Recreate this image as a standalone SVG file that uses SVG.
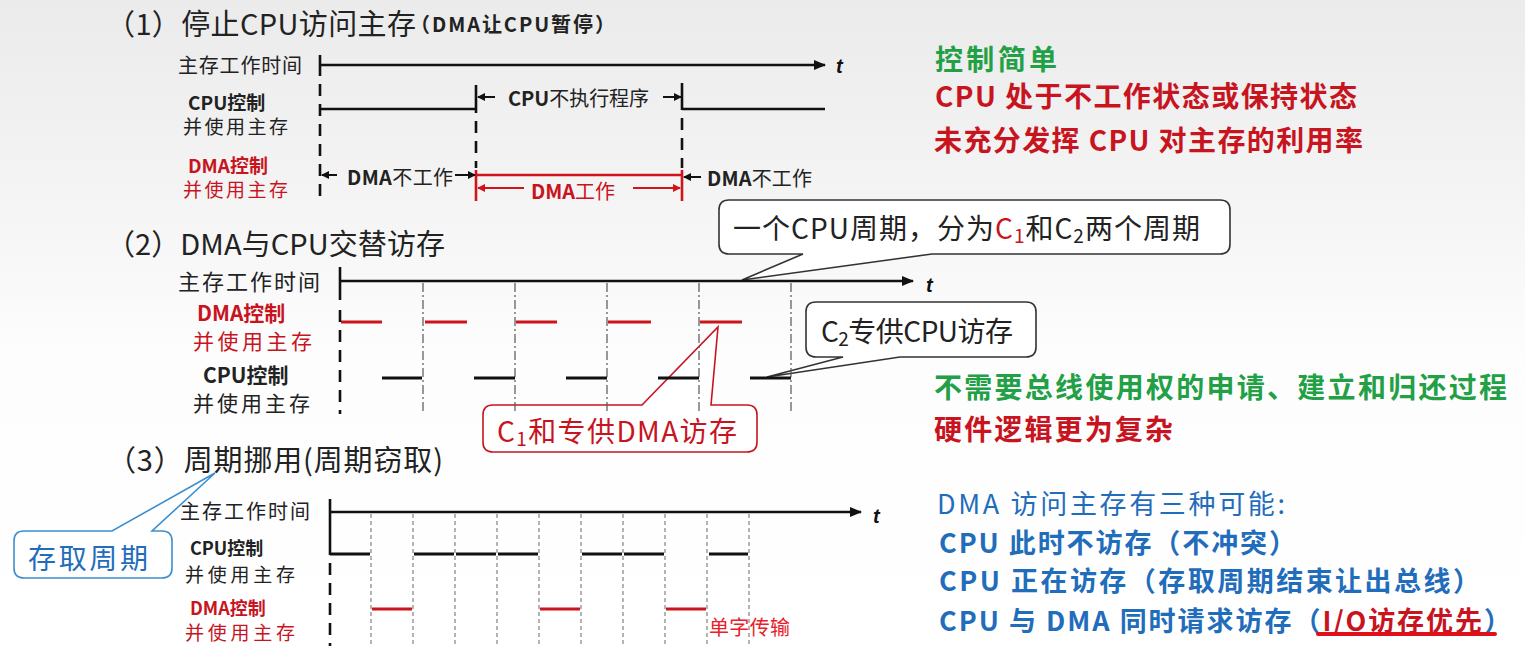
<svg xmlns="http://www.w3.org/2000/svg" width="1525" height="649" viewBox="0 0 1525 649">
  <defs>
    <linearGradient id="bg" x1="0" y1="0" x2="0" y2="1">
      <stop offset="0" stop-color="#ebebeb"/>
      <stop offset="0.3" stop-color="#f4f4f4"/>
      <stop offset="0.55" stop-color="#fdfdfd"/>
      <stop offset="1" stop-color="#ffffff"/>
    </linearGradient>
    <marker id="axisHead" markerUnits="userSpaceOnUse" markerWidth="12" markerHeight="10" refX="11" refY="5" orient="auto" viewBox="0 0 12 10">
      <path d="M0,0 L12,5 L0,10 z" fill="#111"/>
    </marker>
    <marker id="headB" markerUnits="userSpaceOnUse" markerWidth="8" markerHeight="8" refX="7" refY="4" orient="auto" viewBox="0 0 8 8">
      <path d="M0,0 L8,4 L0,8 z" fill="#111"/>
    </marker>
    <marker id="headR" markerUnits="userSpaceOnUse" markerWidth="8" markerHeight="8" refX="7" refY="4" orient="auto" viewBox="0 0 8 8">
      <path d="M0,0 L8,4 L0,8 z" fill="#d0141c"/>
    </marker>
  </defs>
  <style>
    text { font-family: 'Noto Sans CJK SC', 'Noto Sans', sans-serif; dominant-baseline: central; fill: #222; }
    .title { font-size: 29px; }
    .b { font-weight: 700; }
    .red { fill: #c8141e; }
    .green { fill: #22a046; }
    .blue { fill: #1f6dbb; }
    .tt { font-family: 'Liberation Sans', sans-serif; font-weight: 700; font-style: italic; font-size: 20px; fill: #111; }
    .axis { stroke: #111; stroke-width: 2.5; fill: none; marker-end: url(#axisHead); }
    .solid { stroke: #111; stroke-width: 2.6; fill: none; }
    .dash { stroke: #111; stroke-width: 2.6; stroke-dasharray: 12 8; fill: none; }
    .rline { stroke: #d0141c; stroke-width: 2.6; fill: none; }
    .sarr { stroke: #111; stroke-width: 2; marker-end: url(#headB); }
    .rarr { stroke: #d0141c; stroke-width: 2; marker-end: url(#headR); }
    .grid2 { stroke: #555; stroke-width: 1.2; stroke-dasharray: 9 3 2 3; }
    .grid3 { stroke: #8c8c8c; stroke-width: 1.3; stroke-dasharray: 4 3; }
    .busB { stroke: #111; stroke-width: 3; }
    .busR { stroke: #cc141c; stroke-width: 3; }
    .box { fill: #fff; stroke-width: 1.6; }
  </style>

  <rect x="0" y="0" width="1525" height="649" fill="url(#bg)"/>

  <!-- callout balloons, drawn under the timelines -->
  <g id="callout-cpu-cycle">
    <path class="box" stroke="#333" d="M729,200 H1220 Q1230,200 1230,210 V244 Q1230,254 1220,254 H932 L742,280 L803,254 H729 Q719,254 719,244 V210 Q719,200 729,200 Z"/>
    <text x="733" y="227" font-size="28" textLength="467" lengthAdjust="spacing">一个CPU周期，分为<tspan class="red">C</tspan><tspan class="red" font-size="19" dy="7">1</tspan><tspan dy="-7">和C</tspan><tspan font-size="19" dy="7">2</tspan><tspan dy="-7">两个周期</tspan></text>
  </g>
  <g id="callout-c2">
    <path class="box" stroke="#333" d="M816,302 H1026 Q1036,302 1036,312 V347 Q1036,357 1026,357 H900 L767,377 L843,357 H816 Q806,357 806,347 V312 Q806,302 816,302 Z"/>
    <text x="821" y="330" font-size="28" textLength="192" lengthAdjust="spacing">C<tspan font-size="19" dy="7">2</tspan><tspan dy="-7">专供CPU访存</tspan></text>
  </g>
  <g id="callout-c1">
    <path class="box" stroke="#c8141e" d="M493,405 H642 L718,327 L711,405 H747 Q757,405 757,415 V442 Q757,452 747,452 H493 Q483,452 483,442 V415 Q483,405 493,405 Z"/>
    <text class="red" x="497" y="430" font-size="28" textLength="240" lengthAdjust="spacing">C<tspan font-size="19" dy="7">1</tspan><tspan dy="-7">和专供DMA访存</tspan></text>
  </g>
  <g id="callout-access-cycle">
    <path class="box" stroke="#3b8fd0" d="M24,531 H112 L215,473 L152,531 H162 Q172,531 172,541 V568 Q172,578 162,578 H24 Q14,578 14,568 V541 Q14,531 24,531 Z"/>
    <text class="blue" x="28" y="557" font-size="28" textLength="120" lengthAdjust="spacing">存取周期</text>
  </g>

  <!-- (1) CPU halts memory access -->
  <g id="mode-1">
    <text class="title" x="106" y="22" textLength="310" lengthAdjust="spacing">（1）停止CPU访问主存</text>
    <text class="b" x="410" y="23" font-size="20" textLength="205" lengthAdjust="spacing">（DMA让CPU暂停）</text>

    <text x="178" y="64" font-size="20" textLength="124" lengthAdjust="spacing">主存工作时间</text>
    <text class="b" x="188" y="101" font-size="19">CPU控制</text>
    <text x="183" y="125" font-size="19" textLength="105" lengthAdjust="spacing">并使用主存</text>
    <text class="b red" x="188" y="164" font-size="19">DMA控制</text>
    <text class="red" x="183" y="188" font-size="19" textLength="105" lengthAdjust="spacing">并使用主存</text>

    <line class="solid" x1="320" y1="55" x2="320" y2="76"/>
    <line class="dash" x1="320" y1="84" x2="320" y2="202"/>
    <line class="axis" x1="320" y1="65" x2="825" y2="65"/>
    <text class="tt" x="836" y="66">t</text>

    <path class="solid" d="M320,109 H476 M476,85 V113 M682,83 V110 M682,109 H825"/>
    <line class="dash" x1="476" y1="121" x2="476" y2="168"/>
    <line class="dash" x1="682" y1="118" x2="682" y2="168"/>
    <path class="rline" d="M476,170 V201 M682,170 V201 M476,175 H682"/>

    <line class="sarr" x1="495" y1="97" x2="478" y2="97"/>
    <text x="508" y="97" font-size="20" textLength="141" lengthAdjust="spacing"><tspan class="b">CPU</tspan>不执行程序</text>
    <line class="sarr" x1="663" y1="97" x2="681" y2="97"/>

    <line class="sarr" x1="337" y1="175" x2="322" y2="175"/>
    <text x="347" y="176" font-size="20" textLength="106" lengthAdjust="spacing"><tspan class="b">DMA</tspan>不工作</text>
    <line class="sarr" x1="455" y1="175" x2="475" y2="175"/>

    <line class="rarr" x1="524" y1="188" x2="478" y2="188"/>
    <text class="red" x="531" y="190" font-size="20" textLength="84" lengthAdjust="spacing"><tspan class="b">DMA</tspan>工作</text>
    <line class="rarr" x1="633" y1="188" x2="680" y2="188"/>

    <line class="sarr" x1="701" y1="177" x2="684" y2="177"/>
    <text x="707" y="177" font-size="20" textLength="105" lengthAdjust="spacing"><tspan class="b">DMA</tspan>不工作</text>

    <text class="b green" x="935" y="58" font-size="28" textLength="122" lengthAdjust="spacing">控制简单</text>
    <text class="b red" x="935" y="95" font-size="28" textLength="422" lengthAdjust="spacing">CPU 处于不工作状态或保持状态</text>
    <text class="b red" x="934" y="139" font-size="28" textLength="429" lengthAdjust="spacing">未充分发挥 CPU 对主存的利用率</text>
  </g>

  <!-- (2) DMA and CPU alternate -->
  <g id="mode-2">
    <text class="title" x="106" y="242" textLength="339" lengthAdjust="spacing">（2）DMA与CPU交替访存</text>

    <text x="178" y="280" font-size="22" textLength="142" lengthAdjust="spacing">主存工作时间</text>
    <text class="b red" x="197" y="312" font-size="21">DMA控制</text>
    <text class="red" x="193" y="340" font-size="21" textLength="119" lengthAdjust="spacing">并使用主存</text>
    <text class="b" x="203" y="374" font-size="21">CPU控制</text>
    <text x="193" y="402" font-size="21" textLength="117" lengthAdjust="spacing">并使用主存</text>

    <line class="solid" x1="340" y1="267" x2="340" y2="300"/>
    <line class="dash" x1="340" y1="310" x2="340" y2="414"/>
    <line class="axis" x1="340" y1="281" x2="913" y2="281"/>
    <text class="tt" x="926" y="285">t</text>

    <g>
      <line class="grid2" x1="423" y1="283" x2="423" y2="413"/>
      <line class="grid2" x1="515" y1="283" x2="515" y2="413"/>
      <line class="grid2" x1="607" y1="283" x2="607" y2="413"/>
      <line class="grid2" x1="699" y1="283" x2="699" y2="413"/>
      <line class="grid2" x1="791" y1="283" x2="791" y2="413"/>
    </g>
    <path class="busR" d="M341,322 H382 M425,322 H467 M516,322 H557 M608,322 H651 M700,322 H742"/>
    <path class="busB" d="M382,378 H422 M474,378 H515 M566,378 H607 M658,378 H699 M750,378 H791"/>

    <text class="b green" x="934" y="386" font-size="28" textLength="573" lengthAdjust="spacing">不需要总线使用权的申请、建立和归还过程</text>
    <text class="b red" x="934" y="428" font-size="28" textLength="239" lengthAdjust="spacing">硬件逻辑更为复杂</text>
  </g>

  <!-- (3) cycle stealing -->
  <g id="mode-3">
    <text class="title" x="107" y="458" textLength="336" lengthAdjust="spacing">（3）周期挪用(周期窃取)</text>

    <text x="180" y="510" font-size="20" textLength="130" lengthAdjust="spacing">主存工作时间</text>
    <text class="b" x="190" y="547" font-size="18">CPU控制</text>
    <text x="185" y="573" font-size="19" textLength="110" lengthAdjust="spacing">并使用主存</text>
    <text class="b red" x="190" y="607" font-size="18">DMA控制</text>
    <text class="red" x="185" y="631" font-size="19" textLength="110" lengthAdjust="spacing">并使用主存</text>

    <line class="solid" x1="330" y1="499" x2="330" y2="555"/>
    <line class="dash" x1="330" y1="563" x2="330" y2="646"/>
    <line class="axis" x1="330" y1="512" x2="861" y2="512"/>
    <text class="tt" x="873" y="516">t</text>

    <g>
      <line class="grid3" x1="371" y1="514" x2="371" y2="646"/>
      <line class="grid3" x1="413" y1="514" x2="413" y2="646"/>
      <line class="grid3" x1="455" y1="514" x2="455" y2="646"/>
      <line class="grid3" x1="497" y1="514" x2="497" y2="646"/>
      <line class="grid3" x1="539" y1="514" x2="539" y2="646"/>
      <line class="grid3" x1="581" y1="514" x2="581" y2="646"/>
      <line class="grid3" x1="623" y1="514" x2="623" y2="646"/>
      <line class="grid3" x1="665" y1="514" x2="665" y2="646"/>
      <line class="grid3" x1="707" y1="514" x2="707" y2="646"/>
      <line class="grid3" x1="749" y1="514" x2="749" y2="646"/>
    </g>
    <path class="busB" d="M330,554 H370 M414,554 H454 M456,554 H496 M498,554 H538 M582,554 H622 M624,554 H664 M709,554 H748"/>
    <path class="busR" d="M372,609 H412 M540,609 H580 M666,609 H706"/>
    <text x="709" y="626" font-size="20" style="fill:#e8202a" textLength="81" lengthAdjust="spacing">单字传输</text>

    <text class="blue" x="937" y="502" font-size="27" textLength="348" lengthAdjust="spacing">DMA 访问主存有三种可能:</text>
    <text class="b blue" x="939" y="541" font-size="27" textLength="357" lengthAdjust="spacing">CPU 此时不访存（不冲突）</text>
    <text class="b blue" x="939" y="579" font-size="27" textLength="541" lengthAdjust="spacing">CPU 正在访存（存取周期结束让出总线）</text>
    <text class="b blue" x="939" y="619" font-size="27" textLength="572" lengthAdjust="spacing">CPU 与 DMA 同时请求访存（<tspan class="red">I/O访存优先</tspan>）</text>
    <line x1="1318" y1="634" x2="1495" y2="634" stroke="#e0101a" stroke-width="4" stroke-linecap="round"/>
  </g>
</svg>
